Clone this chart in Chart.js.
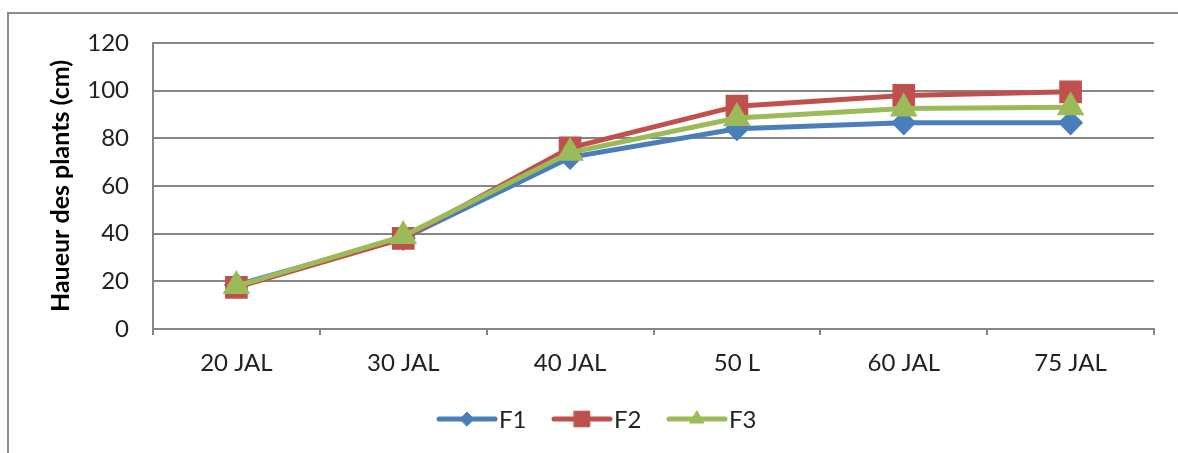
<!DOCTYPE html>
<html>
<head>
<meta charset="utf-8">
<script src="https://cdn.jsdelivr.net/npm/chart.js@4/dist/chart.umd.min.js"></script>
<style>
html,body{margin:0;padding:0;background:#fff;}
#wrap{position:relative;width:1178px;height:453px;}
</style>
</head>
<body>
<div id="wrap"><canvas id="c" width="1178" height="453"></canvas></div>
<script>
const categories = ["20 JAL", "30 JAL", "40 JAL", "50 L", "60 JAL", "75 JAL"];
const seriesNames = ["F1", "F2", "F3"];
const f1 = [18.5, 38, 72, 84, 86.5, 86.5];
const f2 = [17.5, 38, 76, 93.5, 98, 99.5];
const f3 = [18, 39, 74, 88.5, 92.5, 93];
const yTicks = [0, 20, 40, 60, 80, 100, 120];
const yTitle = "Haueur des plants (cm)";

const colors = ["#4A7EBB", "#C0504D", "#9BBB59"];
const styles = ["rectRot", "rect", "triangle"];
const radii = [9, 12.5, 11];
const legendRadii = [7, 11, 8];
const FONT = "Lato, 'Liberation Sans', sans-serif";

const outerBorder = {
  id: "outerBorder",
  beforeDraw(chart) {
    const ctx = chart.ctx;
    ctx.save();
    ctx.fillStyle = "#fff";
    ctx.fillRect(0, 0, chart.width, chart.height);
    ctx.strokeStyle = "#8c8c8c";
    ctx.lineWidth = 2;
    ctx.strokeRect(8, 13, 1300, 600);
    ctx.restore();
  }
};

const customLegend = {
  id: "customLegend",
  afterDraw(chart) {
    const ctx = chart.ctx;
    const y = 419;
    const starts = [439, 554, 669];
    ctx.save();
    chart.data.datasets.forEach((ds, i) => {
      const x0 = starts[i];
      ctx.strokeStyle = ds.borderColor;
      ctx.lineWidth = 5;
      ctx.lineCap = "round";
      ctx.beginPath();
      ctx.moveTo(x0, y);
      ctx.lineTo(x0 + 56, y);
      ctx.stroke();
      ctx.fillStyle = ds.borderColor;
      ctx.strokeStyle = ds.borderColor;
      ctx.lineWidth = 1;
      Chart.helpers.drawPoint(ctx, {
        pointStyle: ds.pointStyle,
        radius: legendRadii[i],
        borderWidth: 1
      }, x0 + 28, y);
      ctx.fillStyle = "#222";
      ctx.font = "24px " + FONT;
      ctx.textBaseline = "middle";
      ctx.textAlign = "left";
      ctx.fillText(ds.label, x0 + 60, y + 1);
    });
    ctx.restore();
  }
};

function mk(name, data, i) {
  return {
    label: name,
    data: data,
    borderColor: colors[i],
    backgroundColor: colors[i],
    pointBackgroundColor: colors[i],
    pointBorderColor: colors[i],
    pointStyle: styles[i],
    pointRadius: radii[i],
    pointHoverRadius: radii[i],
    borderWidth: 5,
    tension: 0,
    order: 2 - i
  };
}

new Chart(document.getElementById("c"), {
  type: "line",
  data: {
    labels: categories,
    datasets: [mk(seriesNames[0], f1, 0), mk(seriesNames[1], f2, 1), mk(seriesNames[2], f3, 2)]
  },
  options: {
    responsive: false,
    animation: false,
    devicePixelRatio: 1,
    layout: { padding: { left: 0, top: 43, right: 24, bottom: 64 } },
    plugins: { legend: { display: false }, tooltip: { enabled: false } },
    scales: {
      x: {
        offset: true,
        grid: { offset: true, drawOnChartArea: false, drawTicks: true, tickLength: 6, color: "#868686", lineWidth: 2 },
        border: { color: "#868686", width: 2 },
        ticks: { color: "#222", font: { family: FONT, size: 24 }, padding: 14, maxRotation: 0 },
        afterFit(s) { s.height = 60; }
      },
      y: {
        min: 0, max: 120,
        afterBuildTicks(s) { s.ticks = yTicks.map(v => ({ value: v })); },
        grid: { drawTicks: false, color: "#868686", lineWidth: 2 },
        border: { color: "#868686", width: 2 },
        ticks: { color: "#222", font: { family: FONT, size: 24 }, padding: 24 },
        title: { display: true, text: yTitle, color: "#000", font: { family: FONT, size: 25, weight: "bold" }, padding: { top: 46, bottom: 0 } },
        afterFit(s) { s.width = 153; }
      }
    }
  },
  plugins: [outerBorder, customLegend]
});
</script>
</body>
</html>
